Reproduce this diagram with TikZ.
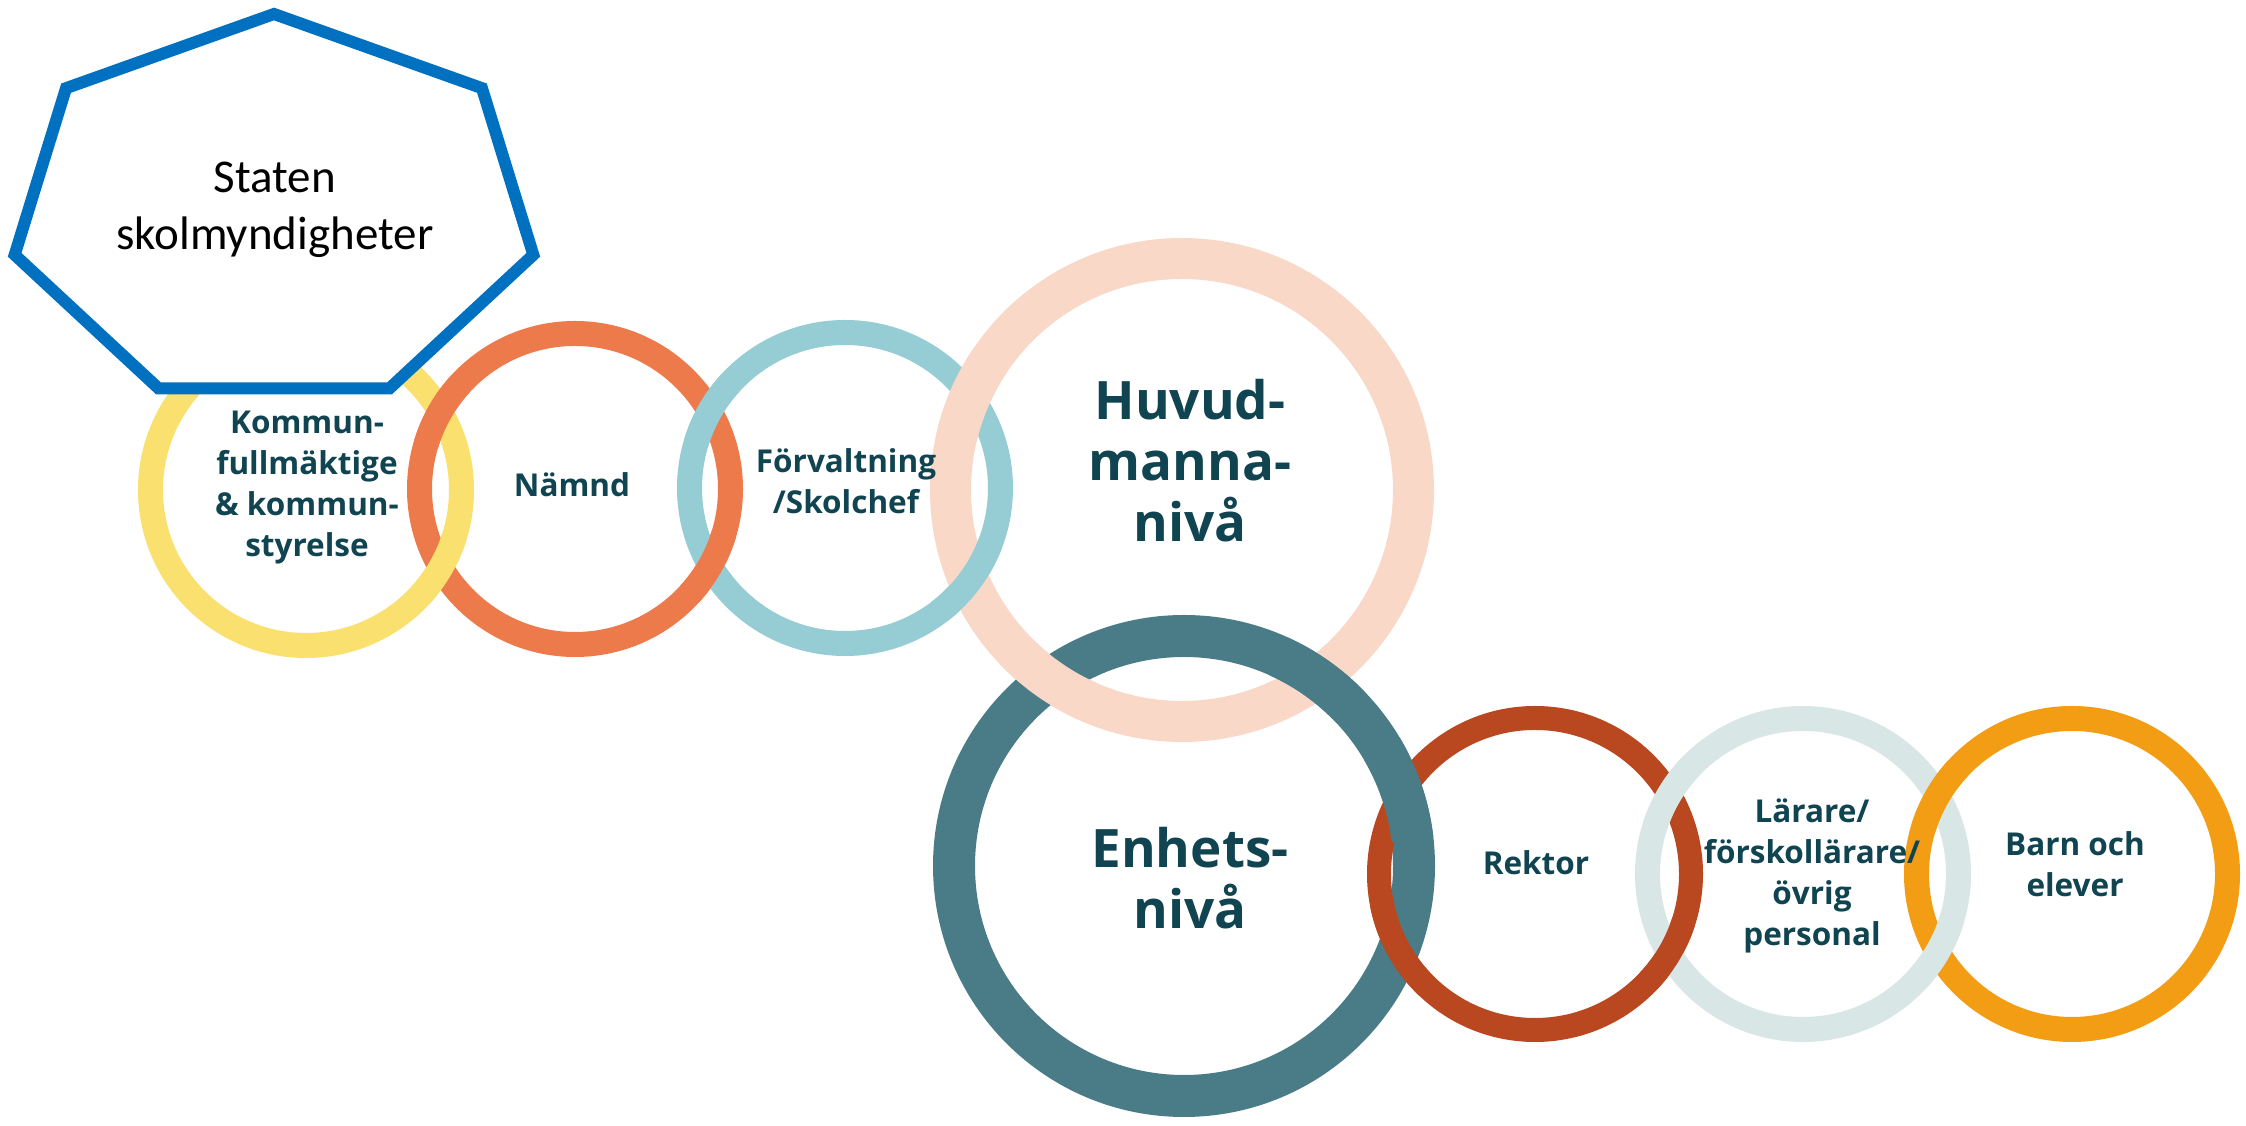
\documentclass[tikz,border=0pt]{standalone}
\usepackage{fontspec}
\setmainfont{Carlito}
\newfontfamily\ringfont{Open Sans}
\definecolor{colY}{RGB}{250,224,110}
\definecolor{colO}{RGB}{236,122,74}
\definecolor{colB}{RGB}{150,204,212}
\definecolor{colP}{RGB}{249,216,200}
\definecolor{colT}{RGB}{74,124,136}
\definecolor{colR}{RGB}{185,72,32}
\definecolor{colL}{RGB}{216,230,230}
\definecolor{colBa}{RGB}{242,157,20}
\definecolor{txtcol}{RGB}{15,68,80}
\definecolor{heptblue}{RGB}{0,112,192}

% ring data: name, x, y, path radius, line width
\newcommand\defring[5]{%
  \expandafter\def\csname rgx#1\endcsname{#2}%
  \expandafter\def\csname rgy#1\endcsname{#3}%
  \expandafter\def\csname rgr#1\endcsname{#4}%
  \expandafter\def\csname rgw#1\endcsname{#5}}
\defring{Y}{306}{636}{155.5}{25}
\defring{O}{575}{637}{155.5}{25}
\defring{B}{845}{638}{155.5}{25}
\defring{P}{1182}{636}{231.5}{41}
\defring{T}{1184}{260}{230}{42}
\defring{R}{1535}{252}{156}{24}
\defring{L}{1803}{252}{155.5}{25}
\defring{Ba}{2072}{252}{155.5}{25}

\tikzset{
  ringstyle/.style={circle, inner sep=0pt, outer sep=0pt},
  smalllbl/.style={text=txtcol, font=\ringfont\bfseries\fontsize{31.5}{41}\selectfont, align=center, inner sep=0pt},
  biglbl/.style={text=txtcol, font=\ringfont\bfseries\fontsize{53}{61}\selectfont, align=center, inner sep=0pt},
  heptagon/.style={draw=heptblue, line width=12pt, fill=white, line join=miter},
  heptlbl/.style={text=black, font=\fontsize{47}{57}\selectfont, align=center, inner sep=0pt},
}

\newcommand\ringnode[2]{%
  \pgfmathsetmacro\rnx{\csname rgx#1\endcsname}%
  \pgfmathsetmacro\rny{\csname rgy#1\endcsname}%
  \pgfmathsetmacro\rnr{\csname rgr#1\endcsname}%
  \pgfmathsetmacro\rnw{\csname rgw#1\endcsname}%
  \node[ringstyle, draw=col#1, line width=\rnw pt, minimum size={2*\rnr pt}] (#2) at (\rnx,\rny) {};}

% ring #1 painted over ring #2 at crossing side #3 (+1/-1), half span #4 degrees
\newcommand\overpaint[4]{%
  \pgfmathsetmacro\opxa{\csname rgx#1\endcsname}%
  \pgfmathsetmacro\opya{\csname rgy#1\endcsname}%
  \pgfmathsetmacro\opra{\csname rgr#1\endcsname}%
  \pgfmathsetmacro\oplw{\csname rgw#1\endcsname}%
  \pgfmathsetmacro\oprb{\csname rgr#2\endcsname}%
  \pgfmathsetmacro\opdx{(\csname rgx#2\endcsname-\opxa)/100}%
  \pgfmathsetmacro\opdy{(\csname rgy#2\endcsname-\opya)/100}%
  \pgfmathsetmacro\opd{100*veclen(\opdx,\opdy)}%
  \pgfmathsetmacro\opphi{atan2(\opdy,\opdx)}%
  \pgfmathsetmacro\opal{acos(0.5*(\opd/\opra+\opra/\opd-(\oprb/\opd)*(\oprb/\opra)))}%
  \pgfmathsetmacro\opth{\opphi+(#3)*\opal}%
  \pgfmathsetmacro\opsa{\opth-#4}%
  \pgfmathsetmacro\opea{\opth+#4}%
  \draw[line width=\oplw pt, draw=col#1]
    ([shift={(\opsa:\opra)}]\opxa,\opya) arc[start angle=\opsa, end angle=\opea, radius=\opra];}

\begin{document}
\begin{tikzpicture}[x=1pt,y=1pt]
\useasboundingbox (0,0) rectangle (2246,1126);
\fill[white] (0,0) rectangle (2246,1126);

% rings
\ringnode{Y}{kommunring}
\ringnode{O}{namndring}
\ringnode{B}{forvring}
\ringnode{P}{huvudring}
\ringnode{T}{enhetsring}
\ringnode{R}{rektorring}
\ringnode{L}{lararring}
\ringnode{Ba}{barnring}

% interlocking crossings
\overpaint{O}{Y}{-1}{13}
\overpaint{Y}{O}{-1}{13}
\overpaint{B}{O}{-1}{13}
\overpaint{O}{B}{-1}{13}
\overpaint{P}{B}{-1}{10}
\overpaint{B}{P}{-1}{16}
\overpaint{P}{T}{-1}{11}
\overpaint{T}{P}{-1}{11}
\overpaint{T}{R}{1}{12}
\overpaint{R}{T}{1}{18}
\overpaint{L}{R}{-1}{13}
\overpaint{R}{L}{-1}{13}
\overpaint{Ba}{L}{-1}{13}
\overpaint{L}{Ba}{-1}{13}

% labels
\node[smalllbl] (kommun) at (307,638) {Kommun-\\fullmäktige\\\& kommun-\\styrelse};
\node[smalllbl] (namnd) at (572,641) {Nämnd};
\node[smalllbl] (forv) at (846,645) {Förvaltning\\/Skolchef};
\node[biglbl] (huvud) at (1190,665) {Huvud-\\manna-\\nivå};
\node[biglbl] (enhets) at (1190,247.5) {Enhets-\\nivå};
\node[smalllbl] (rektor) at (1536,263) {Rektor};
\node[smalllbl] (larare) at (1812,250.5) {Lärare/\\förskollärare/\\övrig\\personal};
\node[smalllbl] (barn) at (2075,262) {Barn och\\elever};

% heptagon
\draw[heptagon] ([shift={(274,915)}]90:266 and 197)
  -- ([shift={(274,915)}]141.4286:266 and 197)
  -- ([shift={(274,915)}]192.8571:266 and 197)
  -- ([shift={(274,915)}]244.2857:266 and 197)
  -- ([shift={(274,915)}]295.7143:266 and 197)
  -- ([shift={(274,915)}]347.1429:266 and 197)
  -- ([shift={(274,915)}]38.5714:266 and 197)
  -- cycle;
\node[heptlbl] (staten) at (275,916.5) {Staten\\skolmyndigheter};
\end{tikzpicture}
\end{document}
